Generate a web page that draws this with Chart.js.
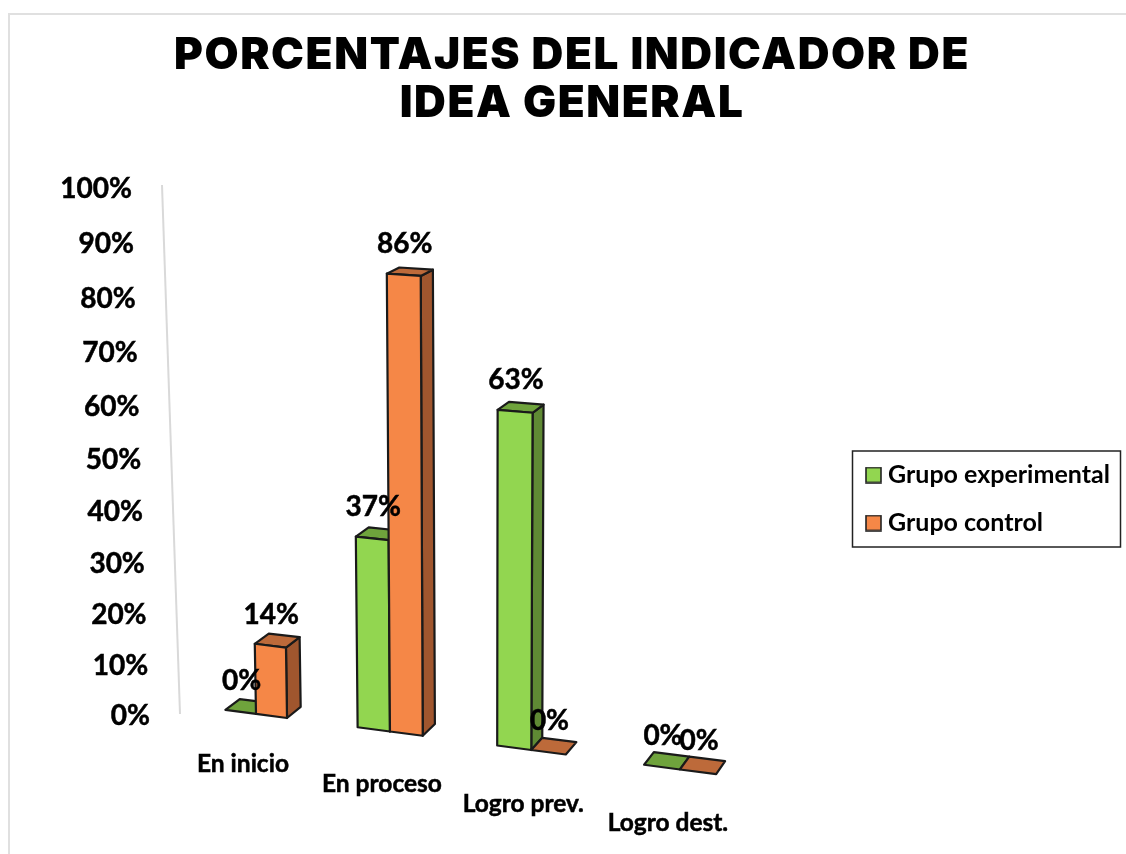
<!DOCTYPE html>
<html><head><meta charset="utf-8">
<script src="https://cdn.jsdelivr.net/npm/chart.js@4/dist/chart.umd.js"></script>
<style>html,body{margin:0;padding:0;background:#fff}canvas{display:block}</style>
</head><body><canvas id="c" width="1126" height="854"></canvas>
<script>
const categories = ['En inicio', 'En proceso', 'Logro prev.', 'Logro dest.'];
const grupoExperimental = [0, 37, 63, 0];
const grupoControl = [14, 86, 0, 0];
const titleLines = ['PORCENTAJES DEL INDICADOR DE', 'IDEA GENERAL'];
const seriesNames = ['Grupo experimental', 'Grupo control'];
const faces = {
  '#92d650': {top: '#6fa33c', side: '#5f8a34'},
  '#f58747': {top: '#bd6a3a', side: '#a0562e'}
};
const LABEL_FONT = 'Lato';
let activeChart = null;

function baseX(u) {
  const s = activeChart.scales.x, a = s.getPixelForValue(0), b = s.getPixelForValue(1);
  const i = (u - a) / (b - a);
  return 256 + 130.3 * i + 3.67 * i * i;
}
const floorOffset = X => 0.131 * (X - 256.5);
function valueAt(y) {
  const ca = activeChart.chartArea;
  return (ca.bottom - y) / (ca.bottom - ca.top) * 100;
}
function front(u, y) {
  const v = valueAt(y), X = baseX(u), h = 1 - 0.0055 * v;
  return {x: X + (X - 480) * 0.00041 * v, y: y + floorOffset(X) * h, X, h};
}
function back(p) {
  return {x: p.x + 14 - (p.X - 256) * 0.011, y: p.y - (11 + 0.0044 * (p.X - 256)) * p.h};
}

class Bar3DElement extends Chart.BarElement {
  static id = 'bar3d';
  static defaults = {...Chart.BarElement.defaults};
  draw(ctx) {
    const {x, y, base, width} = this.getProps(['x', 'y', 'base', 'width']);
    const fill = this.options.backgroundColor, c = faces[fill];
    const tl = front(x - width / 2, y), tr = front(x + width / 2, y);
    const bl = front(x - width / 2, base), br = front(x + width / 2, base);
    const tlb = back(tl), trb = back(tr), brb = back(br);
    const poly = (pts, col) => {
      ctx.beginPath();
      pts.forEach((p, i) => i ? ctx.lineTo(p.x, p.y) : ctx.moveTo(p.x, p.y));
      ctx.closePath();
      ctx.fillStyle = col; ctx.fill(); ctx.stroke();
    };
    ctx.save();
    ctx.strokeStyle = this.options.borderColor;
    ctx.lineWidth = 2.2;
    ctx.lineJoin = 'round';
    if (Math.abs(base - y) > 0.5) {
      poly([tr, trb, brb, br], c.side);
      poly([tl, tlb, trb, tr], c.top);
      poly([tl, tr, br, bl], fill);
    } else {
      poly([tl, tlb, trb, tr], c.top);
    }
    ctx.restore();
  }
}
class Bar3DController extends Chart.BarController {
  static id = 'bar3d';
  static defaults = {...Chart.BarController.defaults, dataElementType: 'bar3d'};
  static overrides = Chart.BarController.overrides;
}
class PerspectiveLinear extends Chart.LinearScale {
  static id = 'perspectiveLinear';
  static defaults = Chart.LinearScale.defaults;
  getPixelForDecimal(d) { return super.getPixelForDecimal((497 * d + 30 * d * d) / 527); }
  _computeLabelArea() { return undefined; }
  _computeLabelItems(ca) {
    const items = super._computeLabelItems(ca);
    items.forEach(it => {
      const t = it.options.translation;
      t[0] += 18 * (t[1] - 187) / 527;
      t[1] += 1.5;
    });
    return items;
  }
}
const xNudge = [-13, -8, -8, -12];
const yNudge = [50, 53, 54, 54];
class PerspectiveCategory extends Chart.CategoryScale {
  static id = 'perspectiveCategory';
  static defaults = Chart.CategoryScale.defaults;
  _computeLabelArea() { return undefined; }
  _computeLabelItems(ca) {
    const items = super._computeLabelItems(ca);
    items.forEach((it, i) => {
      const X = 256 + 130.3 * i + 3.67 * i * i;
      it.options.translation[0] = X + xNudge[i];
      it.options.translation[1] = 714 + floorOffset(X) + yNudge[i];
      it.options.textBaseline = 'middle';
      it.textOffset = 0;
    });
    return items;
  }
}
Chart.register(Bar3DElement, Bar3DController, PerspectiveLinear, PerspectiveCategory);

function swatch(col) {
  const s = document.createElement('canvas');
  s.width = 17; s.height = 17;
  const g = s.getContext('2d');
  g.fillStyle = col; g.fillRect(1, 1, 15, 15);
  g.strokeStyle = '#222'; g.lineWidth = 1.6; g.strokeRect(1, 1, 15, 15);
  return s;
}

const perspectivePlugin = {
  id: 'perspective',
  beforeDraw(chart) {
    activeChart = chart;
    const ctx = chart.ctx;
    ctx.save();
    ctx.strokeStyle = '#e0e0e0'; ctx.lineWidth = 2;
    ctx.beginPath(); ctx.moveTo(9, 854); ctx.lineTo(9, 14); ctx.lineTo(1126, 14); ctx.stroke();
    ctx.restore();
  },
  afterLayout(chart) {
    activeChart = chart;
    const t = chart.titleBlock, l = chart.legend, ctx = chart.ctx;
    if (!t._wrapped) {
      const o = t.draw;
      t.draw = function () { ctx.save(); ctx.translate(9, 0); ctx.letterSpacing = '1.6px'; o.call(t); ctx.restore(); };
      t._wrapped = true;
    }
    if (!l._wrapped) {
      const o = l.draw;
      l.draw = function () {
        ctx.save();
        ctx.strokeStyle = '#222'; ctx.lineWidth = 1.5;
        ctx.strokeRect(852.5, 451, 268, 96);
        ctx.translate(871.5 - (l.left + l.options.labels.padding), 475 - (l.top + l.options.labels.padding + 12.5));
        o.call(l);
        ctx.restore();
      };
      l._wrapped = true;
    }
  },
  beforeDatasetDraw() { return false; },
  beforeDatasetsDraw(chart) {
    const ctx = chart.ctx, s = chart.scales.y;
    ctx.save();
    ctx.strokeStyle = '#d9d9d9'; ctx.lineWidth = 2;
    ctx.beginPath();
    ctx.moveTo(162, s.getPixelForValue(100) - 2);
    ctx.lineTo(180, s.getPixelForValue(0));
    ctx.stroke();
    ctx.restore();
    chart.data.datasets.forEach((ds, di) => chart.getDatasetMeta(di).controller.draw());
  },
  afterDatasetsDraw(chart) {
    const ctx = chart.ctx;
    ctx.save();
    ctx.font = `bold 28px ${LABEL_FONT}`;
    ctx.fillStyle = '#000';
    ctx.strokeStyle = '#000';
    ctx.lineWidth = 0.5;
    ctx.textAlign = 'center';
    ctx.textBaseline = 'middle';
    chart.data.datasets.forEach((ds, di) => {
      chart.getDatasetMeta(di).data.forEach((el, i) => {
        const {x, y} = el.getProps(['x', 'y']);
        const p = front(x, y);
        ctx.fillText(ds.data[i] + '%', p.x + 1, p.y - 31);
        ctx.strokeText(ds.data[i] + '%', p.x + 1, p.y - 31);
      });
    });
    ctx.restore();
  }
};

new Chart(document.getElementById('c'), {
  type: 'bar3d',
  plugins: [perspectivePlugin],
  data: {
    labels: categories,
    datasets: [
      {label: seriesNames[0], data: grupoExperimental, backgroundColor: '#92d650', borderColor: '#1a1a1a', borderWidth: 1,
       categoryPercentage: 0.473, barPercentage: 1},
      {label: seriesNames[1], data: grupoControl, backgroundColor: '#f58747', borderColor: '#1a1a1a', borderWidth: 1,
       categoryPercentage: 0.473, barPercentage: 1}
    ]
  },
  options: {
    responsive: false,
    animation: false,
    layout: {padding: 0},
    scales: {
      x: {
        type: 'perspectiveCategory',
        afterFit: s => { s.height = 140; },
        grid: {display: false, drawTicks: false}, border: {display: false},
        ticks: {autoSkip: false, maxRotation: 0, padding: 0, color: '#000', textStrokeColor: '#000', textStrokeWidth: 0.5,
                font: {family: LABEL_FONT, weight: 'bold', size: 24.5}}
      },
      y: {
        type: 'perspectiveLinear',
        min: 0, max: 100,
        afterFit: s => { s.width = 132; },
        grid: {display: false, drawTicks: false}, border: {display: false},
        ticks: {stepSize: 10, padding: 0, color: '#000', textStrokeColor: '#000', textStrokeWidth: 0.5, callback: v => v + '%',
                font: {family: LABEL_FONT, weight: 'bold', size: 28}}
      }
    },
    plugins: {
      tooltip: {enabled: false},
      title: {
        display: true, text: titleLines, color: '#000',
        font: {family: 'Inter', weight: 900, size: 44, lineHeight: 48 / 44},
        padding: {top: 31.5, bottom: 59.5}
      },
      legend: {
        position: 'right',
        align: 'start',
        labels: {
          color: '#000', usePointStyle: true, pointStyleWidth: 4, padding: 23,
          font: {family: LABEL_FONT, weight: 'bold', size: 25, lineHeight: 1},
          generateLabels(chart) {
            return Chart.defaults.plugins.legend.labels.generateLabels(chart)
              .map(l => ({...l, pointStyle: swatch(l.fillStyle)}));
          }
        }
      }
    }
  }
});
</script></body></html>
